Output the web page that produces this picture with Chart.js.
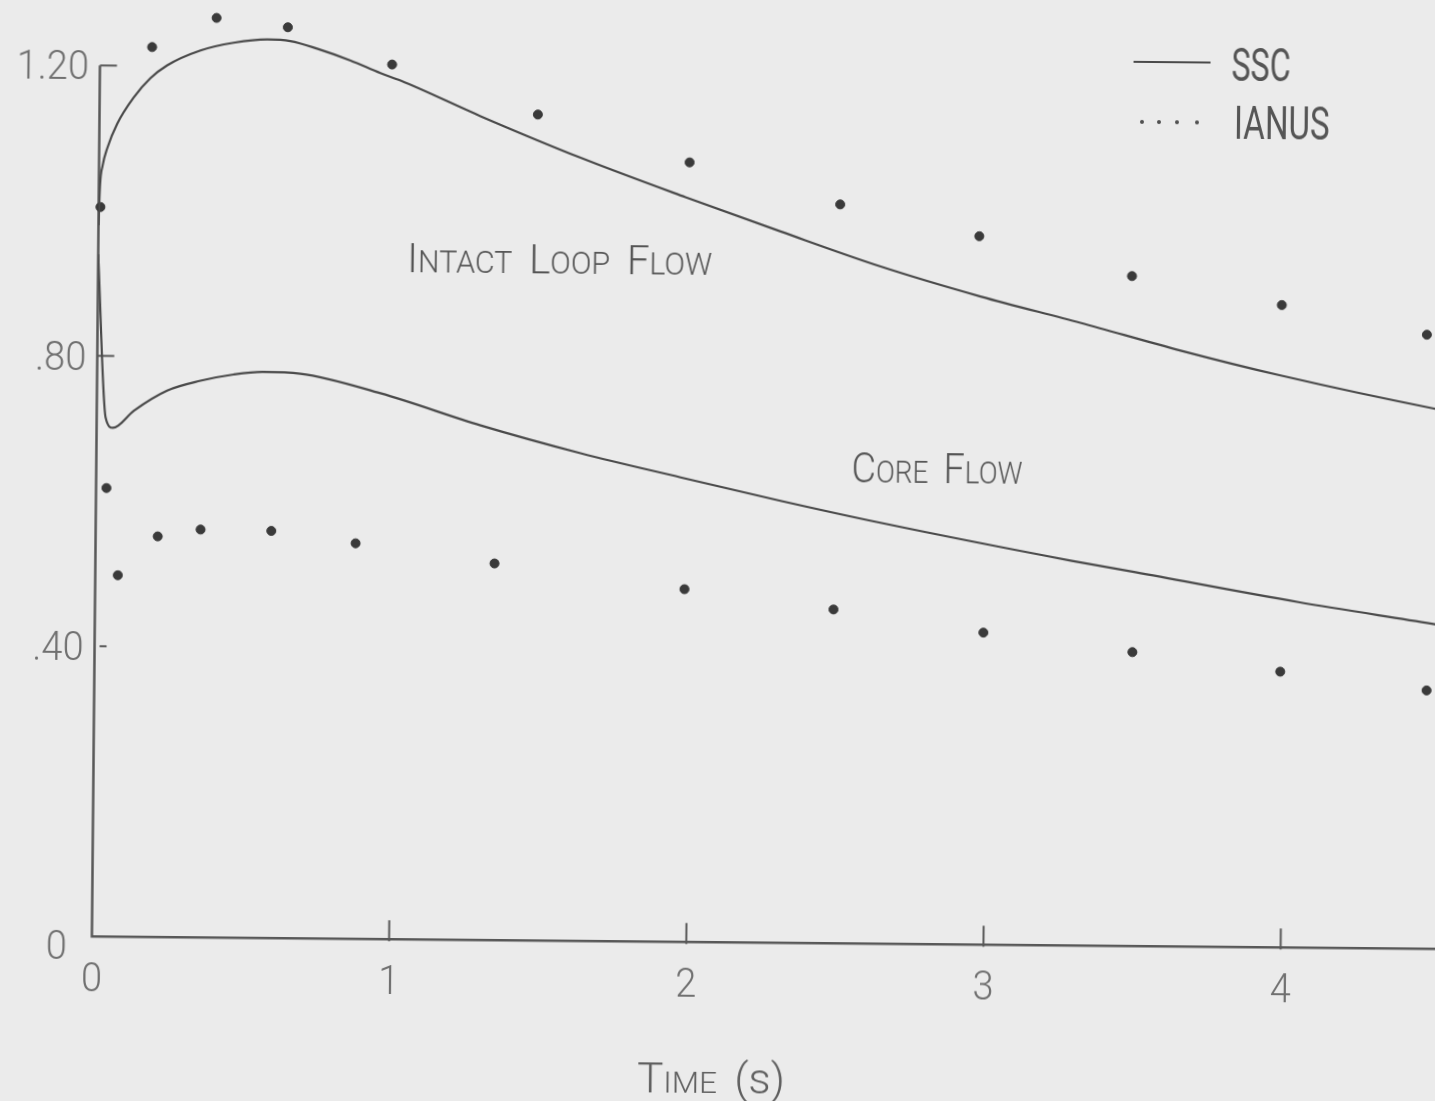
<!DOCTYPE html>
<html>
<head>
<meta charset="utf-8">
<script src="https://cdn.jsdelivr.net/npm/chart.js@4.4.1/dist/chart.umd.min.js"></script>
<style>
  html, body { margin: 0; padding: 0; width: 1435px; height: 1101px; overflow: hidden; background: #ebebeb; }
  #plot { position: absolute; left: -12px; top: -9px; width: 1460px; height: 1120px;
          transform: rotate(0.53deg); transform-origin: 50% 50%; }
</style>
</head>
<body>
<canvas id="plot" width="1460" height="1120"></canvas>
<script>
// SSC solution: intact loop flow (normalised) against time (s)
const sscIntactTime = [0.000, 0.004, 0.012, 0.027, 0.060, 0.114, 0.170, 0.226, 0.338, 0.449, 0.562, 0.640, 0.730, 0.843, 0.944, 1.012, 1.282, 1.620, 1.974, 2.295, 2.633, 2.970, 3.307, 3.645, 3.982, 4.504, 4.560];
const sscIntactFlow = [0.980, 1.035, 1.062, 1.086, 1.120, 1.156, 1.183, 1.201, 1.222, 1.233, 1.238, 1.236, 1.226, 1.210, 1.193, 1.183, 1.135, 1.079, 1.026, 0.980, 0.933, 0.893, 0.858, 0.821, 0.788, 0.744, 0.740];

// SSC solution: core flow
const sscCoreTime = [0.000, 0.030, 0.055, 0.125, 0.236, 0.348, 0.459, 0.556, 0.684, 0.954, 1.292, 1.629, 1.966, 2.303, 2.640, 3.286, 3.500, 4.049, 4.498, 4.560];
const sscCoreFlow = [0.940, 0.715, 0.701, 0.725, 0.753, 0.767, 0.776, 0.780, 0.778, 0.752, 0.709, 0.672, 0.640, 0.609, 0.580, 0.530, 0.515, 0.476, 0.448, 0.444];

// IANUS results
const ianusIntactTime = [0.006, 0.175, 0.391, 0.631, 0.983, 1.475, 1.987, 2.495, 2.964, 3.479, 3.984, 4.473];
const ianusIntactFlow = [1.005, 1.226, 1.267, 1.255, 1.205, 1.138, 1.074, 1.018, 0.976, 0.923, 0.885, 0.846];
const ianusCoreTime = [0.035, 0.076, 0.209, 0.353, 0.591, 0.875, 1.343, 1.983, 2.485, 2.990, 3.492, 3.990, 4.483];
const ianusCoreFlow = [0.618, 0.498, 0.552, 0.562, 0.561, 0.545, 0.519, 0.486, 0.460, 0.430, 0.405, 0.380, 0.356];

// Axis ticks
const yTickValues = [0, 0.40, 0.80, 1.20];
const yTickLabels = ['0', '.40', '.80', '1.20'];
const xTickValues = [0, 1, 2, 3, 4];
const xTickLabels = ['0', '1', '2', '3', '4'];

const FONT = 'Roboto, "Liberation Sans", "DejaVu Sans", sans-serif';
const PAPER = '#ebebeb';
const LINE = '#4a4a4a';
const DOT = '#3a3a3a';
const AXIS = '#585858';

function pairs(xs, ys) { return xs.map((x, i) => ({ x: x, y: ys[i] })); }

// draw text squeezed horizontally by sx, anchored at (x, y) on its baseline
function squeezed(ctx, text, x, y, px, weight, sx, align) {
  ctx.font = weight + ' ' + px + 'px ' + FONT;
  const w = ctx.measureText(text).width * sx;
  let left = x;
  if (align === 'right') left = x - w;
  else if (align === 'center') left = x - w / 2;
  ctx.save();
  ctx.translate(left, y);
  ctx.scale(sx, 1);
  ctx.textAlign = 'left';
  ctx.textBaseline = 'alphabetic';
  ctx.fillText(text, 0, 0);
  ctx.restore();
}

// small-capital lettering fitted to a given width
function smallCaps(ctx, text, x, y, bigPx, smallPx, weight, width) {
  const parts = [];
  text.split(' ').forEach(function (word, i) {
    if (i > 0) parts.push({ s: ' ', px: smallPx, space: true });
    if (word.charAt(0) === '(') { parts.push({ s: word, px: bigPx }); return; }
    parts.push({ s: word.charAt(0), px: bigPx });
    if (word.length > 1) parts.push({ s: word.slice(1).toUpperCase(), px: smallPx });
  });
  let total = 0;
  parts.forEach(function (p) {
    ctx.font = weight + ' ' + p.px + 'px ' + FONT;
    p.w = p.space ? smallPx * 0.55 : ctx.measureText(p.s).width;
    total += p.w;
  });
  ctx.save();
  ctx.translate(x, y);
  ctx.scale(width / total, 1);
  ctx.textAlign = 'left';
  ctx.textBaseline = 'alphabetic';
  let cx = 0;
  parts.forEach(function (p) {
    ctx.font = weight + ' ' + p.px + 'px ' + FONT;
    if (!p.space) ctx.fillText(p.s, cx, 0);
    cx += p.w;
  });
  ctx.restore();
}

const paperPlugin = {
  id: 'paper',
  beforeDraw(chart) {
    const ctx = chart.ctx;
    ctx.save();
    ctx.fillStyle = PAPER;
    ctx.fillRect(0, 0, chart.width, chart.height);
    ctx.restore();
  }
};

const axesPlugin = {
  id: 'handAxes',
  beforeDatasetsDraw(chart) {
    const ctx = chart.ctx;
    const xs = chart.scales.x, ys = chart.scales.y;
    const x0 = xs.getPixelForValue(0), y0 = ys.getPixelForValue(0);
    ctx.save();
    ctx.strokeStyle = AXIS;
    ctx.lineWidth = 2.5;
    ctx.lineCap = 'butt';
    // vertical axis from 1.20 down to 0, horizontal axis to the right edge
    ctx.beginPath();
    ctx.moveTo(x0, ys.getPixelForValue(yTickValues[yTickValues.length - 1]));
    ctx.lineTo(x0, y0);
    ctx.lineTo(chart.width, y0);
    ctx.stroke();
    // y ticks pointing into the plot
    ctx.lineWidth = 2;
    yTickValues.forEach(function (v) {
      if (v === 0) return;
      const py = ys.getPixelForValue(v);
      const a = v < 0.5 ? 5 : 0, b = v < 0.5 ? 12 : 17;
      ctx.beginPath();
      ctx.moveTo(x0 + a, py);
      ctx.lineTo(x0 + b, py);
      ctx.stroke();
    });
    // x ticks rising from the axis
    xTickValues.forEach(function (t) {
      if (t === 0) return;
      const px = xs.getPixelForValue(t);
      ctx.beginPath();
      ctx.moveTo(px, y0 + 2);
      ctx.lineTo(px, y0 - 19);
      ctx.stroke();
    });
    ctx.restore();
  },
  afterDatasetsDraw(chart) {
    const ctx = chart.ctx;
    const xs = chart.scales.x, ys = chart.scales.y;
    const x0 = xs.getPixelForValue(0), y0 = ys.getPixelForValue(0);
    ctx.save();
    // tick labels
    ctx.fillStyle = '#707070';
    yTickValues.forEach(function (v, i) {
      const py = ys.getPixelForValue(v);
      if (v === 0) squeezed(ctx, yTickLabels[i], x0 - 25, py + 23, 40, 300, 0.95, 'right');
      else squeezed(ctx, yTickLabels[i], x0 - 11, py + 14, 40, 300, 0.95, 'right');
    });
    xTickValues.forEach(function (t, i) {
      squeezed(ctx, xTickLabels[i], xs.getPixelForValue(t), y0 + 55, 40, 300, 0.95, 'center');
    });

    // curve labels
    ctx.fillStyle = '#555555';
    smallCaps(ctx, 'Intact Loop Flow', xs.getPixelForValue(1.040), ys.getPixelForValue(0.919), 41, 31, 300, 305);
    smallCaps(ctx, 'Core Flow', xs.getPixelForValue(2.541), ys.getPixelForValue(0.6355), 42, 31, 300, 171);

    // axis title
    ctx.fillStyle = '#606060';
    smallCaps(ctx, 'Time (s)', 654, 1102, 42, 30, 300, 148);

    // key
    ctx.strokeStyle = LINE;
    ctx.lineWidth = 2;
    ctx.beginPath();
    ctx.moveTo(1141, 67);
    ctx.lineTo(1218, 67);
    ctx.stroke();
    ctx.fillStyle = '#505050';
    [1150, 1167, 1185, 1205].forEach(function (dx) {
      ctx.beginPath();
      ctx.arc(dx, 127, 2, 0, Math.PI * 2);
      ctx.fill();
    });
    ctx.fillStyle = '#555555';
    squeezed(ctx, 'SSC', 1239, 84.5, 46, 400, 0.7, 'left');
    squeezed(ctx, 'IANUS', 1242, 142.5, 46, 400, 0.72, 'left');
    ctx.restore();
  }
};

const lineStyle = {
  showLine: true,
  pointRadius: 0,
  borderColor: LINE,
  borderWidth: 2.2,
  cubicInterpolationMode: 'monotone',
  fill: false
};
const dotStyle = {
  showLine: false,
  pointRadius: 4.5,
  pointBackgroundColor: DOT,
  pointBorderColor: DOT,
  pointBorderWidth: 1,
  clip: false
};

new Chart(document.getElementById('plot'), {
  type: 'scatter',
  data: {
    datasets: [
      Object.assign({ label: 'SSC intact loop flow', data: pairs(sscIntactTime, sscIntactFlow) }, lineStyle),
      Object.assign({ label: 'SSC core flow', data: pairs(sscCoreTime, sscCoreFlow) }, lineStyle),
      Object.assign({ label: 'IANUS intact loop flow', data: pairs(ianusIntactTime, ianusIntactFlow) }, dotStyle),
      Object.assign({ label: 'IANUS core flow', data: pairs(ianusCoreTime, ianusCoreFlow) }, dotStyle)
    ]
  },
  options: {
    responsive: false,
    devicePixelRatio: 1,
    animation: false,
    layout: { autoPadding: false, padding: { left: 107.5, right: 0, top: 0, bottom: 168.7 } },
    scales: {
      x: { type: 'linear', min: 0, max: 4.5508, display: false },
      y: { type: 'linear', min: 0, max: 1.3105, display: false }
    },
    plugins: { legend: { display: false }, tooltip: { enabled: false } }
  },
  plugins: [paperPlugin, axesPlugin]
});
</script>
</body>
</html>
